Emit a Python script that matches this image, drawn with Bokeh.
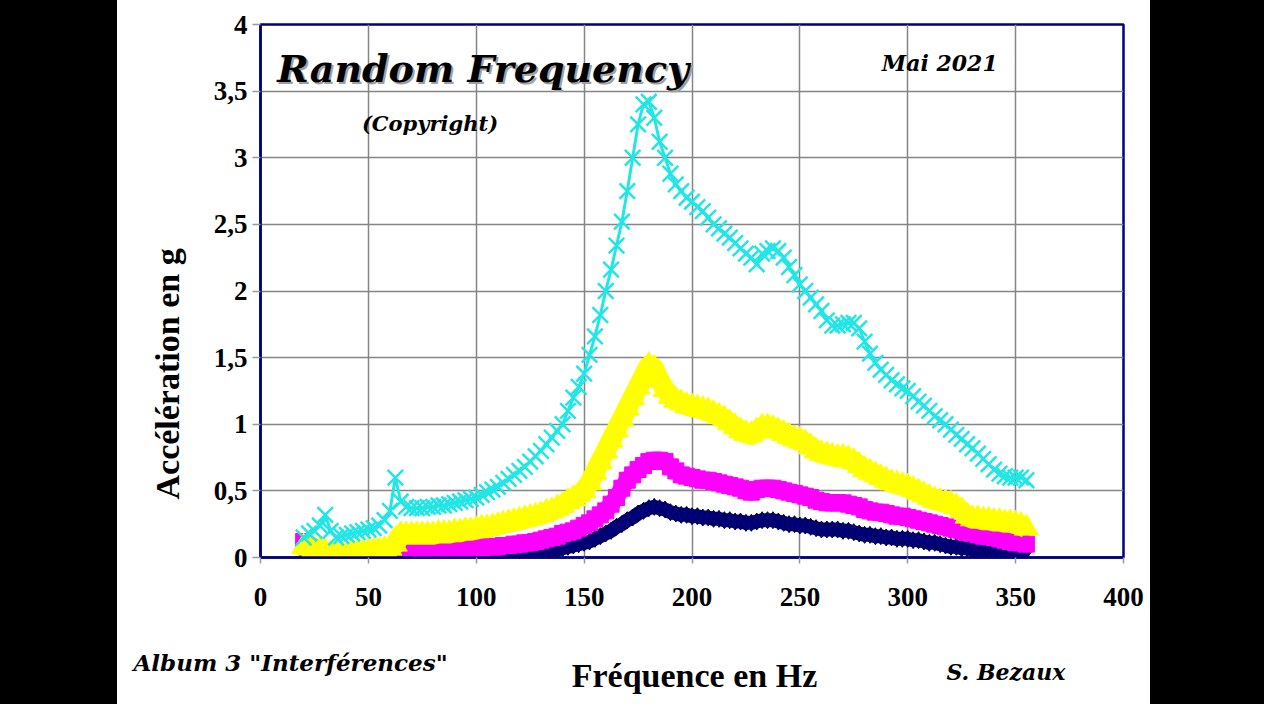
from bokeh.plotting import figure
from bokeh.models import Range1d, FixedTicker, Label, Div, Title
from bokeh.layouts import row, column
from bokeh.embed import file_html
from bokeh.resources import INLINE

freq = [20.0, 22.5, 25.0, 27.5, 30.0, 32.5, 35.0, 37.5, 40.0, 42.5,
        45.0, 47.5, 50.0, 52.5, 55.0, 57.5, 60.0, 62.5, 65.0, 67.5,
        70.0, 72.5, 75.0, 77.5, 80.0, 82.5, 85.0, 87.5, 90.0, 92.5,
        95.0, 97.5, 100.0, 102.5, 105.0, 107.5, 110.0, 112.5, 115.0, 117.5,
        120.0, 122.5, 125.0, 127.5, 130.0, 132.5, 135.0, 137.5, 140.0, 142.5,
        145.0, 147.5, 150.0, 152.5, 155.0, 157.5, 160.0, 162.5, 165.0, 167.5,
        170.0, 172.5, 175.0, 177.5, 180.0, 182.5, 185.0, 187.5, 190.0, 192.5,
        195.0, 197.5, 200.0, 202.5, 205.0, 207.5, 210.0, 212.5, 215.0, 217.5,
        220.0, 222.5, 225.0, 227.5, 230.0, 232.5, 235.0, 237.5, 240.0, 242.5,
        245.0, 247.5, 250.0, 252.5, 255.0, 257.5, 260.0, 262.5, 265.0, 267.5,
        270.0, 272.5, 275.0, 277.5, 280.0, 282.5, 285.0, 287.5, 290.0, 292.5,
        295.0, 297.5, 300.0, 302.5, 305.0, 307.5, 310.0, 312.5, 315.0, 317.5,
        320.0, 322.5, 325.0, 327.5, 330.0, 332.5, 335.0, 337.5, 340.0, 342.5,
        345.0, 347.5, 350.0, 352.5, 355.0]

cyan_g = [0.15, 0.18, 0.20, 0.24, 0.32, 0.20, 0.15, 0.16, 0.17, 0.18,
          0.19, 0.20, 0.21, 0.22, 0.24, 0.28, 0.35, 0.60, 0.42, 0.38,
          0.37, 0.37, 0.37, 0.38, 0.38, 0.39, 0.39, 0.40, 0.41, 0.42,
          0.43, 0.44, 0.45, 0.47, 0.49, 0.51, 0.53, 0.56, 0.59, 0.62,
          0.65, 0.68, 0.72, 0.76, 0.80, 0.85, 0.90, 0.95, 1.00, 1.10,
          1.20, 1.28, 1.38, 1.52, 1.66, 1.82, 2.00, 2.16, 2.34, 2.52,
          2.75, 3.00, 3.25, 3.40, 3.42, 3.30, 3.12, 3.00, 2.88, 2.80,
          2.75, 2.70, 2.67, 2.63, 2.60, 2.55, 2.50, 2.47, 2.43, 2.40,
          2.36, 2.32, 2.28, 2.25, 2.20, 2.28, 2.30, 2.32, 2.30, 2.25,
          2.18, 2.12, 2.05, 2.00, 1.95, 1.90, 1.85, 1.78, 1.74, 1.74,
          1.75, 1.76, 1.76, 1.72, 1.62, 1.53, 1.46, 1.41, 1.37, 1.33,
          1.30, 1.27, 1.25, 1.21, 1.17, 1.14, 1.10, 1.06, 1.03, 1.00,
          0.96, 0.92, 0.89, 0.85, 0.82, 0.78, 0.74, 0.70, 0.66, 0.63,
          0.61, 0.60, 0.60, 0.60, 0.58]

yellow_g = [0.08, 0.07, 0.06, 0.05, 0.04, 0.03, 0.02, 0.02, 0.02, 0.03,
            0.03, 0.04, 0.04, 0.05, 0.05, 0.06, 0.07, 0.10, 0.17, 0.17,
            0.17, 0.17, 0.17, 0.17, 0.17, 0.18, 0.18, 0.18, 0.19, 0.19,
            0.20, 0.20, 0.21, 0.22, 0.22, 0.23, 0.24, 0.25, 0.26, 0.27,
            0.28, 0.29, 0.30, 0.31, 0.32, 0.34, 0.35, 0.37, 0.39, 0.42,
            0.44, 0.47, 0.50, 0.56, 0.64, 0.72, 0.80, 0.88, 0.96, 1.04,
            1.12, 1.20, 1.28, 1.36, 1.44, 1.42, 1.33, 1.26, 1.21, 1.18,
            1.16, 1.14, 1.13, 1.12, 1.11, 1.10, 1.08, 1.06, 1.04, 1.01,
            0.98, 0.95, 0.93, 0.92, 0.95, 0.98, 0.98, 0.97, 0.95, 0.93,
            0.91, 0.89, 0.88, 0.86, 0.83, 0.80, 0.78, 0.77, 0.76, 0.75,
            0.75, 0.74, 0.72, 0.69, 0.66, 0.64, 0.62, 0.60, 0.58, 0.56,
            0.55, 0.54, 0.53, 0.51, 0.49, 0.47, 0.45, 0.43, 0.42, 0.41,
            0.40, 0.38, 0.35, 0.31, 0.29, 0.29, 0.28, 0.28, 0.27, 0.27,
            0.26, 0.26, 0.25, 0.24, 0.22]

magenta_g = [0.12, 0.08, 0.05, 0.03, 0.02, 0.01, 0.00, 0.00, 0.00, 0.01,
             0.01, 0.01, 0.01, 0.02, 0.02, 0.02, 0.03, 0.03, 0.05, 0.05,
             0.05, 0.05, 0.05, 0.05, 0.05, 0.06, 0.06, 0.06, 0.06, 0.06,
             0.07, 0.07, 0.07, 0.07, 0.08, 0.08, 0.08, 0.09, 0.09, 0.10,
             0.10, 0.11, 0.11, 0.12, 0.13, 0.14, 0.15, 0.16, 0.18, 0.19,
             0.20, 0.22, 0.24, 0.26, 0.29, 0.32, 0.35, 0.40, 0.45, 0.52,
             0.58, 0.62, 0.66, 0.69, 0.72, 0.73, 0.73, 0.72, 0.68, 0.65,
             0.62, 0.61, 0.60, 0.59, 0.58, 0.58, 0.57, 0.56, 0.55, 0.54,
             0.53, 0.52, 0.50, 0.49, 0.51, 0.52, 0.52, 0.52, 0.51, 0.50,
             0.49, 0.48, 0.47, 0.46, 0.45, 0.43, 0.42, 0.41, 0.41, 0.41,
             0.41, 0.40, 0.39, 0.38, 0.36, 0.35, 0.34, 0.34, 0.33, 0.32,
             0.31, 0.31, 0.30, 0.29, 0.28, 0.27, 0.26, 0.25, 0.24, 0.23,
             0.22, 0.21, 0.20, 0.19, 0.18, 0.17, 0.16, 0.16, 0.15, 0.14,
             0.13, 0.12, 0.11, 0.11, 0.10]

navy_g = [0.03, 0.02, 0.01, 0.01, 0.00, 0.00, 0.00, 0.00, 0.00, 0.00,
          0.00, 0.00, 0.01, 0.01, 0.01, 0.01, 0.01, 0.01, 0.01, 0.01,
          0.01, 0.01, 0.01, 0.01, 0.01, 0.01, 0.01, 0.01, 0.01, 0.01,
          0.01, 0.01, 0.01, 0.01, 0.02, 0.02, 0.02, 0.02, 0.02, 0.03,
          0.03, 0.03, 0.04, 0.04, 0.05, 0.05, 0.06, 0.06, 0.07, 0.08,
          0.09, 0.10, 0.11, 0.12, 0.14, 0.16, 0.18, 0.20, 0.23, 0.25,
          0.28, 0.30, 0.33, 0.35, 0.37, 0.38, 0.37, 0.36, 0.34, 0.33,
          0.32, 0.32, 0.31, 0.31, 0.30, 0.30, 0.29, 0.29, 0.28, 0.28,
          0.27, 0.27, 0.26, 0.26, 0.27, 0.28, 0.28, 0.28, 0.27, 0.26,
          0.25, 0.25, 0.24, 0.24, 0.23, 0.22, 0.21, 0.21, 0.21, 0.21,
          0.20, 0.20, 0.19, 0.18, 0.17, 0.17, 0.16, 0.16, 0.15, 0.15,
          0.14, 0.14, 0.14, 0.13, 0.13, 0.12, 0.11, 0.11, 0.10, 0.09,
          0.08, 0.08, 0.07, 0.07, 0.06, 0.06, 0.05, 0.05, 0.04, 0.04,
          0.04, 0.04, 0.04, 0.04, 0.05]

x_ticks = [0, 50, 100, 150, 200, 250, 300, 350, 400]
y_ticks = [0, 0.5, 1, 1.5, 2, 2.5, 3, 3.5, 4]
y_tick_labels = ["0", "0,5", "1", "1,5", "2", "2,5", "3", "3,5", "4"]

NAVY = "#000080"
MAGENTA = "#FF00FF"
YELLOW = "#FFFF00"
CYAN = "#22E6E6"

LEFT_W = 117
FIG_W = 1033
RIGHT_W = 114
TOP_H = 630
BOT_H = 74

p = figure(width=FIG_W, height=TOP_H, output_backend="svg", toolbar_location=None,
           x_range=Range1d(0, 400), y_range=Range1d(0, 4),
           min_border_left=143, min_border_right=27, min_border_top=24,
           min_border_bottom=73, margin=0)
p.background_fill_color = "white"
p.border_fill_color = "white"
p.outline_line_color = NAVY
p.outline_line_width = 2.5

p.xaxis.ticker = FixedTicker(ticks=x_ticks)
p.yaxis.ticker = FixedTicker(ticks=y_ticks)
p.yaxis.major_label_overrides = {t: l for t, l in zip(y_ticks, y_tick_labels)}
for ax in (p.xaxis, p.yaxis):
    ax.axis_line_color = NAVY
    ax.axis_line_width = 2.5
    ax.major_tick_line_color = "#9a9a9a"
    ax.major_tick_line_width = 1.5
    ax.major_tick_in = 0
    ax.minor_tick_line_color = None
    ax.major_label_text_font = "Liberation Serif"
    ax.major_label_text_font_style = "bold"
    ax.major_label_text_font_size = "27px"
    ax.major_label_text_color = "black"
p.xaxis.major_tick_out = 6
p.xaxis.major_label_standoff = 24
p.yaxis.major_tick_out = 8
p.yaxis.major_label_standoff = 5

p.xgrid.grid_line_color = "#858585"
p.ygrid.grid_line_color = "#858585"
p.xgrid.grid_line_width = 1.5
p.ygrid.grid_line_width = 1.5

# series 1 : navy diamonds
p.line(freq, navy_g, line_color=NAVY, line_width=14, line_join="round")
p.scatter(freq, navy_g, marker="diamond", size=17, fill_color=NAVY, line_color="#000040", line_width=1)
# series 2 : magenta squares
p.line(freq, magenta_g, line_color=MAGENTA, line_width=17, line_join="round")
p.scatter(freq, magenta_g, marker="square", size=16, fill_color=MAGENTA, line_color=MAGENTA, line_width=1)
# series 3 : yellow triangles
p.line(freq, yellow_g, line_color=YELLOW, line_width=20, line_join="round")
p.scatter(freq, yellow_g, marker="triangle", size=24, fill_color=YELLOW, line_color=YELLOW, line_width=1)
# series 4 : cyan crosses
p.line(freq, cyan_g, line_color=CYAN, line_width=3, line_join="round")
p.scatter(freq, cyan_g, marker="x", size=22, line_color=CYAN, line_width=2.5)

def lab(fig, txt, x, y, size, font="DejaVu Serif", style="bold italic",
        align="left", shadow=False):
    if shadow:
        fig.add_layout(Label(x=x, y=y, text=txt, text_font=font, text_font_style=style,
                             text_font_size=size, text_color="#a0a0a0", text_align=align,
                             text_baseline="middle", x_offset=2, y_offset=-2))
    fig.add_layout(Label(x=x, y=y, text=txt, text_font=font, text_font_style=style,
                         text_font_size=size, text_color="black", text_align=align,
                         text_baseline="middle"))

lab(p, "Random Frequency", 7.8, 3.67, "38px", shadow=True)
lab(p, "(Copyright)", 47.0, 3.26, "21px")
lab(p, "Mai 2021", 288, 3.71, "22px")

ytitle = Title(text="Accélération en g", align="left", offset=58, standoff=50,
               text_font="Liberation Serif", text_font_style="bold",
               text_font_size="34px", text_color="black")
p.add_layout(ytitle, "left")

# bottom strip holding the footer texts (its own pixel coordinates)
b = figure(width=FIG_W, height=BOT_H, output_backend="svg", toolbar_location=None,
           x_range=Range1d(0, FIG_W), y_range=Range1d(BOT_H, 0),
           min_border=0, margin=0)
b.axis.visible = False
b.grid.visible = False
b.outline_line_color = None
b.background_fill_color = "white"
b.border_fill_color = "white"
lab(b, "Album 3 \"Interférences\"", 16, 32, "23px")
lab(b, "S. Bezaux", 829, 41, "22px")
lab(b, "Fréquence en Hz", 577, 45, "34px", font="Liberation Serif", style="bold", align="center")

left = Div(width=LEFT_W, height=TOP_H + BOT_H, margin=0, styles={"background-color": "black"})
right = Div(width=RIGHT_W, height=TOP_H + BOT_H, margin=0, styles={"background-color": "black"})
layout = row(left, column(p, row(b, margin=0), spacing=0, margin=0), right, spacing=0, margin=0)

open("out.html", "w").write(file_html(layout, INLINE))
